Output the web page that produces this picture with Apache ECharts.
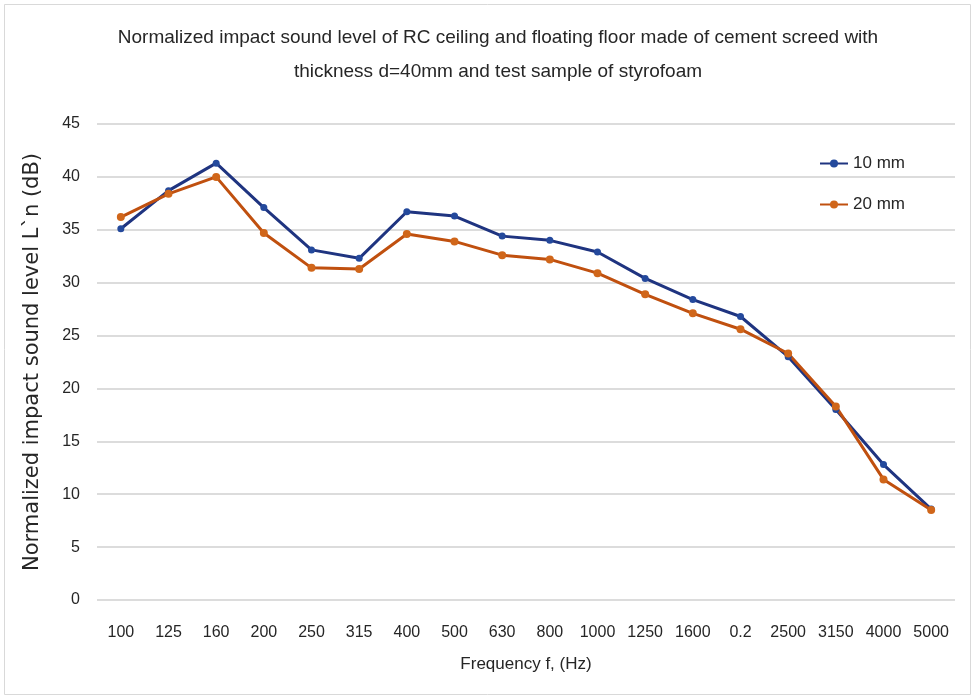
<!DOCTYPE html>
<html>
<head>
<meta charset="utf-8">
<script src="https://cdn.jsdelivr.net/npm/echarts@6/dist/echarts.min.js"></script>
<style>html,body{margin:0;padding:0;background:#fff}#c{width:977px;height:696px}</style>
</head>
<body>
<div id="c"></div>
<script>
const categories = ['100','125','160','200','250','315','400','500','630','800','1000','1250','1600','0.2','2500','3150','4000','5000'];
const seriesNames = ['10 mm', '20 mm'];
const values10 = [35.1, 38.7, 41.3, 37.1, 33.1, 32.3, 36.7, 36.3, 34.4, 34.0, 32.9, 30.4, 28.4, 26.8, 23.0, 18.0, 12.8, 8.6];
const values20 = [36.2, 38.4, 40.0, 34.7, 31.4, 31.3, 34.6, 33.9, 32.6, 32.2, 30.9, 28.9, 27.1, 25.6, 23.3, 18.3, 11.4, 8.5];
const yTicks = [0, 5, 10, 15, 20, 25, 30, 35, 40, 45];

const FONT = 'Liberation Sans';
const chart = echarts.init(document.getElementById('c'), null, {renderer: 'canvas'});
chart.setOption({
  backgroundColor: '#fff',
  animation: false,
  graphic: [{
    type: 'rect', left: 2, top: 2, silent: true,
    shape: {x: 0, y: 0, width: 966, height: 690},
    style: {fill: 'none', stroke: '#d9d9d9', lineWidth: 1}
  }],
  title: {
    text: 'Normalized impact sound level of RC ceiling and floating floor made of cement screed with\nthickness d=40mm and test sample of styrofoam',
    left: 493, top: 16, textAlign: 'center',
    textStyle: {fontFamily: FONT, fontSize: 19, fontWeight: 'normal', color: '#262626', lineHeight: 34}
  },
  legend: {
    orient: 'vertical', left: 814, top: 150, itemGap: 24, itemWidth: 28, itemHeight: 10,
    textStyle: {fontFamily: FONT, fontSize: 17, color: '#262626'},
    data: seriesNames
  },
  grid: {left: 97, right: 22, top: 124, bottom: 96, containLabel: false},
  xAxis: {
    type: 'category', data: categories, boundaryGap: true,
    name: 'Frequency f, (Hz)', nameLocation: 'middle', nameGap: 56,
    nameTextStyle: {fontFamily: FONT, fontSize: 17, color: '#262626'},
    axisLine: {show: false}, axisTick: {show: false},
    axisLabel: {fontFamily: FONT, fontSize: 16, color: '#262626', margin: 25, interval: 0}
  },
  yAxis: {
    type: 'value', min: yTicks[0], max: yTicks[yTicks.length - 1], interval: 5,
    name: 'Normalized impact sound level L`n (dB)', nameLocation: 'middle', nameGap: 54,
    nameTextStyle: {fontFamily: 'DejaVu Sans', fontSize: 21, color: '#262626'},
    axisLine: {show: false}, axisTick: {show: false},
    axisLabel: {fontFamily: FONT, fontSize: 16, color: '#262626', margin: 17},
    splitLine: {lineStyle: {color: '#d0d0d0', width: 1.5}}
  },
  series: [
    {name: seriesNames[0], type: 'line', data: values10, symbol: 'circle', symbolSize: 7,
     lineStyle: {color: '#1f3480', width: 3}, itemStyle: {color: '#24499c'}},
    {name: seriesNames[1], type: 'line', data: values20, symbol: 'circle', symbolSize: 8,
     lineStyle: {color: '#c0500f', width: 3}, itemStyle: {color: '#d0661a'}}
  ]
});
</script>
</body>
</html>
